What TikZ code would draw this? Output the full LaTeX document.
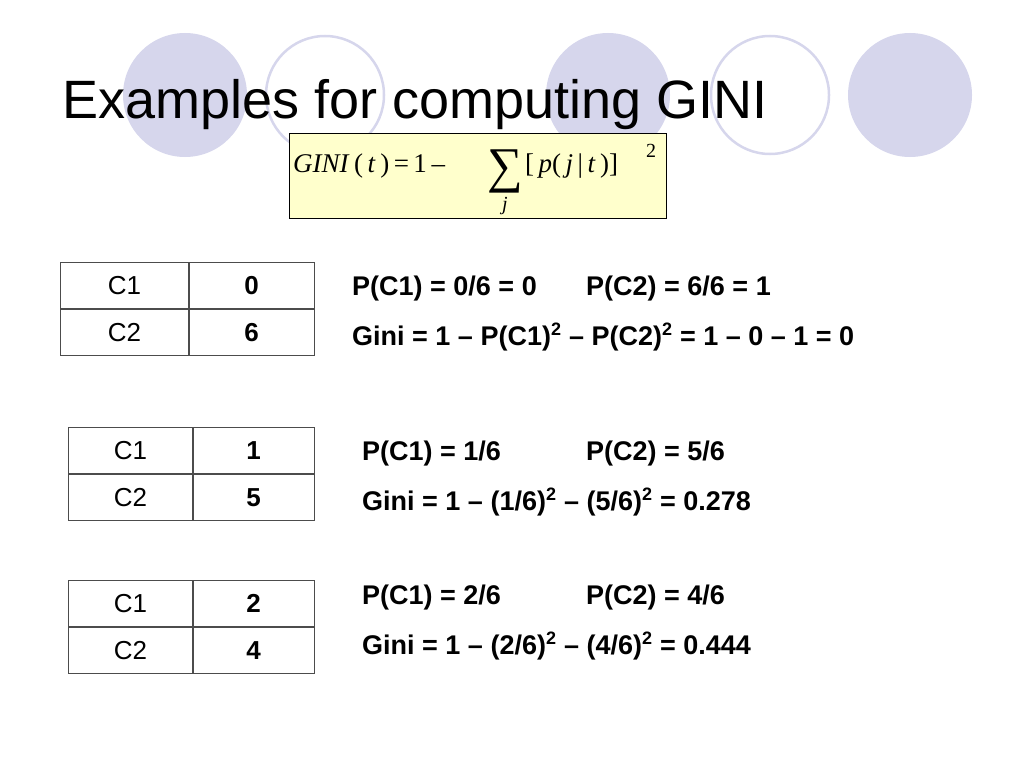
\documentclass[tikz,border=0pt]{standalone}
\usepackage{fontspec}
\setmainfont{Liberation Sans}
\newfontfamily\tms{Liberation Serif}
\begin{document}
\begin{tikzpicture}[x=1pt,y=-1pt]
\definecolor{lav}{HTML}{D6D6EC}
\definecolor{ylw}{HTML}{FFFFCC}
\useasboundingbox (0,0) rectangle (1024,768);
\tikzset{oc/.style={draw=lav,line width=2.5pt,fill=white},
 cell/.style={draw=black!70,line width=0.8pt,minimum height=46pt,inner sep=0pt,font=\fontsize{26}{28}\selectfont},
 txt/.style={anchor=base west,inner sep=0pt,font=\fontsize{27}{30}\selectfont\bfseries},
 fm/.style={inner sep=0pt,anchor=base west,font=\tms\fontsize{27}{30}\selectfont}}
\fill[lav] (185,95) circle (62);
\draw[oc] (325,95) circle (59);
\fill[lav] (608,95) circle (62);
\draw[oc] (770,95) circle (59);
\fill[lav] (910,95) circle (62);
\node[anchor=base west,inner sep=0pt,font=\fontsize{54}{58}\selectfont] (title) at (62,118) {Examples for computing GINI};
\node[draw=black,fill=ylw,minimum width=377pt,minimum height=85pt,anchor=north west,inner sep=0pt] (box) at (289,133) {};
\node[fm] (f1) at (293,172) {\textit{GINI}\,(\,\textit{t}\,)\,=\,1\,–};
\node[fm,anchor=base,font=\tms\fontsize{50}{52}\selectfont] (sum) at (505,182) {∑};
\node[fm,anchor=base,font=\tms\itshape\fontsize{20}{22}\selectfont] (j) at (505,210) {j};
\node[fm] (f2) at (525,172) {[\,\textit{p}(\,\textit{j}\,|\,\textit{t}\,)]};
\node[fm,font=\tms\fontsize{20}{22}\selectfont] (sq) at (646,157) {2};
% tables
\foreach \n/\x/\w/\y/\a/\b/\va/\vb in {t1/60/128/262/C1/C2/0/6, t2/68/124/427/C1/C2/1/5, t3/68/124/580/C1/C2/2/4}{
 \node[cell,anchor=north west,minimum width=\w pt] (\n a) at (\x,\y) {\a};
 \node[cell,anchor=north west,minimum width=313pt-\x pt-\w pt] (\n b) at (\n a.north east) {\textbf{\va}};
 \node[cell,anchor=north west,minimum width=\w pt] (\n c) at (\n a.south west) {\b};
 \node[cell,anchor=north west,minimum width=313pt-\x pt-\w pt] (\n d) at (\n c.north east) {\textbf{\vb}};
}
\node[txt] (p1) at (352,295) {P(C1) = 0/6 = 0};
\node[txt] (q1) at (586,295) {P(C2) = 6/6 = 1};
\node[txt] (g1) at (352,345) {Gini = 1 – P(C1)$^{\textbf{\fontsize{18}{20}\selectfont 2}}$ – P(C2)$^{\textbf{\fontsize{18}{20}\selectfont 2}}$ = 1 – 0 – 1 = 0};
\node[txt] (p2) at (362,460) {P(C1) = 1/6};
\node[txt] (q2) at (586,460) {P(C2) = 5/6};
\node[txt] (g2) at (362,510) {Gini = 1 – (1/6)$^{\textbf{\fontsize{18}{20}\selectfont 2}}$ – (5/6)$^{\textbf{\fontsize{18}{20}\selectfont 2}}$ = 0.278};
\node[txt] (p3) at (362,604) {P(C1) = 2/6};
\node[txt] (q3) at (586,604) {P(C2) = 4/6};
\node[txt] (g3) at (362,654) {Gini = 1 – (2/6)$^{\textbf{\fontsize{18}{20}\selectfont 2}}$ – (4/6)$^{\textbf{\fontsize{18}{20}\selectfont 2}}$ = 0.444};
\end{tikzpicture}
\end{document}
